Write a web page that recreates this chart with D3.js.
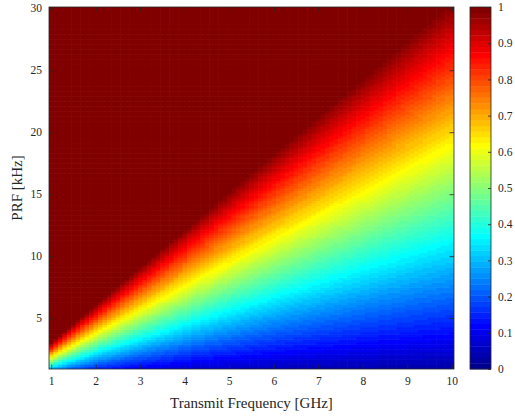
<!DOCTYPE html>
<html>
<head>
<meta charset="utf-8">
<script src="https://cdn.jsdelivr.net/npm/d3@7"></script>
<style>
  html, body { margin: 0; padding: 0; background: #fff; }
  svg { display: block; }
  svg text { font-family: "Liberation Serif", "Times New Roman", serif !important; fill: #262626; }
</style>
</head>
<body>
<svg id="chart" width="515" height="418"></svg>
<script>
// ---- data ----
// sample grid of the image (cell centres)
const freqGHz = d3.range(0, 91).map(i => +(1 + i * 0.1).toFixed(2));    // 1.0 … 10.0 GHz
const prfKHz  = d3.range(0, 146).map(i => +(1 + i * 0.2).toFixed(2));   // 1.0 … 30.0 kHz
// value read along PRF/f (contours are rays through the origin)
const ratioSamples = [0, 1, 2, 3.07];
const valueSamples = [0, 0.326, 0.651, 1];
// tick labels
const xTicks = [1, 2, 3, 4, 5, 6, 7, 8, 9, 10];
const yTicks = [5, 10, 15, 20, 25, 30];
const cTicks = [0, 0.1, 0.2, 0.3, 0.4, 0.5, 0.6, 0.7, 0.8, 0.9, 1];
const xLabel = "Transmit Frequency [GHz]";
const yLabel = "PRF [kHz]";

// ---- jet(64) colormap (MATLAB definition) ----
function jetMap(m) {
  const n = Math.ceil(m / 4);
  const u = [];
  for (let k = 1; k <= n; k++) u.push(k / n);
  for (let k = 1; k < n; k++) u.push(1);
  for (let k = n; k >= 1; k--) u.push(k / n);
  const off = Math.ceil(n / 2) - (m % 4 === 1 ? 1 : 0);
  const J = d3.range(m).map(() => [0, 0, 0]);
  u.forEach((val, k) => {
    const g = off + k + 1, r = g + n, b = g - n;
    if (r >= 1 && r <= m) J[r - 1][0] = val;
    if (g >= 1 && g <= m) J[g - 1][1] = val;
    if (b >= 1 && b <= m) J[b - 1][2] = val;
  });
  return J.map(c => d3.rgb(c[0] * 255, c[1] * 255, c[2] * 255).formatHex());
}
const jet = jetMap(64);
const colorOf = v => jet[Math.max(0, Math.min(63, Math.floor(v * 64)))];

// ---- layout ----
const L = 49, R = 454, T = 7, B = 369;
const cbL = 470, cbR = 491;
const FONT = '"Liberation Serif", "Times New Roman", serif';
const svg = d3.select("#chart");

const x = d3.scaleLinear().domain([0.95, 10.05]).range([L, R]);
const y = d3.scaleLinear().domain([0.9, 30.1]).range([B, T]);
const valueOfRatio = d3.scaleLinear().domain(ratioSamples).range(valueSamples).clamp(true);

// ---- cells ----
const cells = [];
freqGHz.forEach(f => prfKHz.forEach(p => cells.push({ f, p, v: valueOfRatio(p / f) })));
const cw = x(1.1) - x(1.0), ch = y(1.0) - y(1.2);
svg.append("g").selectAll("rect").data(cells).join("rect")
  .attr("x", d => x(d.f - 0.05))
  .attr("y", d => y(d.p + 0.1))
  .attr("width", cw + 0.6)
  .attr("height", ch + 0.6)
  .attr("fill", d => colorOf(d.v));

// clip overflow of last row/col
svg.append("rect").attr("x", R).attr("y", 0).attr("width", cbL - R - 1).attr("height", 418).attr("fill", "#fff");
svg.append("rect").attr("x", 0).attr("y", B).attr("width", cbL - 1).attr("height", 418 - B).attr("fill", "#fff");

// ---- axes ----
const axisColor = "#262626";
function styleAxis(g) {
  g.attr("font-family", FONT).style("font-family", FONT).attr("font-size", 11.5);
  g.select(".domain").remove();
  g.selectAll(".tick line").attr("stroke", axisColor).attr("stroke-width", 0.8);
  g.selectAll(".tick text").style("font-family", FONT).style("font-size", "11.5px").attr("fill", axisColor);
}
svg.append("g").attr("transform", `translate(0,${B})`)
  .call(d3.axisBottom(x).tickValues(xTicks).tickFormat(d3.format("d")).tickSizeInner(-4.5).tickSizeOuter(0).tickPadding(8))
  .call(styleAxis);
svg.append("g").attr("transform", `translate(0,${T})`)
  .call(d3.axisTop(x).tickValues(xTicks).tickFormat("").tickSizeInner(-4.5).tickSizeOuter(0))
  .call(styleAxis);
svg.append("g").attr("transform", `translate(${L},0)`)
  .call(d3.axisLeft(y).tickValues(yTicks).tickFormat(d3.format("d")).tickSizeInner(-4.5).tickSizeOuter(0).tickPadding(7))
  .call(styleAxis);
svg.append("g").attr("transform", `translate(${R},0)`)
  .call(d3.axisRight(y).tickValues(yTicks).tickFormat("").tickSizeInner(-4.5).tickSizeOuter(0))
  .call(styleAxis);
svg.append("rect").attr("x", L).attr("y", T).attr("width", R - L).attr("height", B - T)
  .attr("fill", "none").attr("stroke", axisColor).attr("stroke-width", 0.8);

// axis labels
svg.append("text").attr("x", (L + R) / 2).attr("y", 407.5).attr("text-anchor", "middle")
  .style("font-family", FONT).style("font-size", "15px").text(xLabel);
svg.append("text").attr("transform", `translate(22,${(T + B) / 2}) rotate(-90)`).attr("text-anchor", "middle")
  .style("font-family", FONT).style("font-size", "15px").text(yLabel);

// ---- colorbar ----
const cy = d3.scaleLinear().domain([0, 1]).range([B, T]);
svg.append("g").selectAll("rect").data(jet).join("rect")
  .attr("x", cbL)
  .attr("y", (c, i) => cy((i + 1) / 64))
  .attr("width", cbR - cbL)
  .attr("height", cy(0) - cy(1 / 64) + 0.4)
  .attr("fill", c => c);
svg.append("g").attr("transform", `translate(${cbR},0)`)
  .call(d3.axisRight(cy).tickValues(cTicks).tickFormat(d => d3.format("")(d)).tickSizeInner(-3).tickSizeOuter(0).tickPadding(7))
  .call(styleAxis);
svg.append("rect").attr("x", cbL).attr("y", T).attr("width", cbR - cbL).attr("height", B - T)
  .attr("fill", "none").attr("stroke", axisColor).attr("stroke-width", 0.8);
</script>
</body>
</html>
